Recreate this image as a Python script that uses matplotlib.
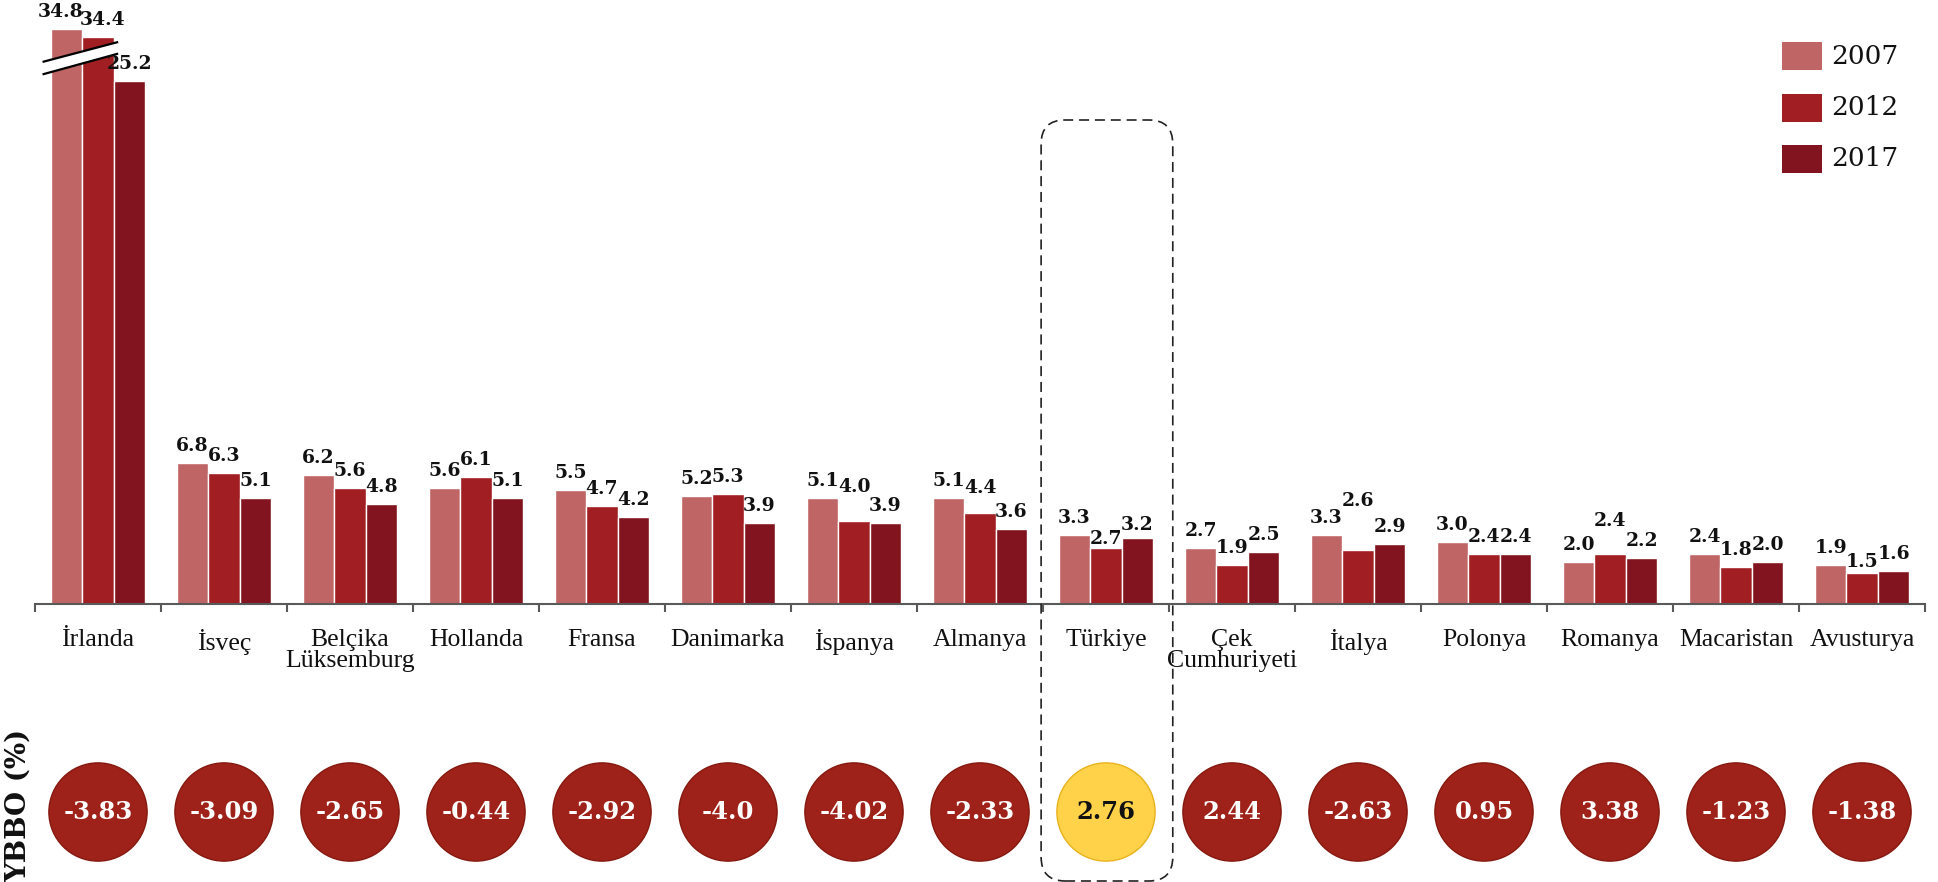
import matplotlib
matplotlib.use("Agg")
import matplotlib.pyplot as plt
from matplotlib.patches import FancyBboxPatch, Rectangle, Polygon
from matplotlib.transforms import IdentityTransform

# ---------------- data ----------------
categories = ["İrlanda", "İsveç", "Belçika\nLüksemburg", "Hollanda", "Fransa",
              "Danimarka", "İspanya", "Almanya", "Türkiye", "Çek\nCumhuriyeti",
              "İtalya", "Polonya", "Romanya", "Macaristan", "Avusturya"]
years = ["2007", "2012", "2017"]
v2007 = [34.8, 6.8, 6.2, 5.6, 5.5, 5.2, 5.1, 5.1, 3.3, 2.7, 3.3, 3.0, 2.0, 2.4, 1.9]
v2012 = [34.4, 6.3, 5.6, 6.1, 4.7, 5.3, 4.0, 4.4, 2.7, 1.9, 2.6, 2.4, 2.4, 1.8, 1.5]
v2017 = [25.2, 5.1, 4.8, 5.1, 4.2, 3.9, 3.9, 3.6, 3.2, 2.5, 2.9, 2.4, 2.2, 2.0, 1.6]
ybbo = [-3.83, -3.09, -2.65, -0.44, -2.92, -4.0, -4.02, -2.33, 2.76, 2.44,
        -2.63, 0.95, 3.38, -1.23, -1.38]
highlight = "Türkiye"

# ---------------- style ----------------
colors = ["#C06565", "#A11F22", "#82141F"]
circle_color = "#9E2219"
highlight_color = "#FFD24A"
BREAK_AT = 26.0          # axis break: values above are shortened
BREAK_OFFSET = 7.1
label_nudge = {(6, 1): 0.8, (7, 1): 0.35, (10, 1): 1.55, (12, 1): 0.8,
               (8, 1): -0.4, (8, 2): -0.2, (14, 1): -0.3}
label_xnudge = {(0, 0): -0.045, (0, 1): 0.04}
num_font = "DejaVu Serif"
txt_font = "Liberation Serif"

W, H = 1938, 882
fig = plt.figure(figsize=(W / 100, H / 100), dpi=100)
ax = fig.add_axes([35 / W, 278 / H, 1890 / W, 594 / H])
n = len(categories)
ax.set_xlim(-0.5, n - 0.5)
ax.set_ylim(0, 28.6)

series = [v2007, v2012, v2017]
bw = 0.25
for k, vals in enumerate(series):
    xs = [i + (k - 1) * bw for i in range(n)]
    hs = [v - BREAK_OFFSET if v > BREAK_AT else v for v in vals]
    ax.bar(xs, hs, width=bw, color=colors[k], edgecolor="white", linewidth=1.0,
           zorder=2)
    for i, (x, h, v) in enumerate(zip(xs, hs, vals)):
        y = h + 0.82 + label_nudge.get((i, k), 0.0)
        ax.text(x + label_xnudge.get((i, k), 0.0), y, f"{v:.1f}", ha="center",
                va="center", fontsize=13.5, fontweight="bold", family=num_font,
                color="#111111", zorder=4, clip_on=False)

# axis break marks on the first group
lo = [(-0.44, 25.5), (0.16, 26.5)]
hi = [(-0.44, 26.1), (0.16, 27.06)]
ax.add_patch(Polygon([lo[0], lo[1], hi[1], hi[0]], closed=True, facecolor="white",
                     edgecolor="none", zorder=3))
for seg in (lo, hi):
    ax.plot([seg[0][0], seg[1][0]], [seg[0][1], seg[1][1]], color="black", lw=1.6,
            zorder=3, solid_capstyle="butt")

# axes cosmetics
for s in ["top", "right", "left"]:
    ax.spines[s].set_visible(False)
ax.spines["bottom"].set_color("#595959")
ax.spines["bottom"].set_linewidth(1.5)
ax.set_yticks([])
ax.set_xticks(range(n))
ax.set_xticklabels(categories, family=txt_font, fontsize=18.5, linespacing=0.97,
                   color="#111111")
ax.tick_params(axis="x", which="major", length=0, pad=18)
ax.set_xticks([i - 0.5 for i in range(n + 1)], minor=True)
ax.tick_params(axis="x", which="minor", length=6, width=1.5, color="#595959",
               direction="out")

# legend (manual)
for k, yr in enumerate(years):
    yc = H - (56 + k * 51.5)
    fig.patches.append(Rectangle((1782, yc - 14), 40, 28, facecolor=colors[k],
                                 edgecolor="none", transform=IdentityTransform(),
                                 figure=fig))
    fig.text(1831 / W, yc / H, yr, family=num_font, fontsize=19, va="center",
             ha="left", color="#111111")

# YBBO circles
ax2 = fig.add_axes([35 / W, 0, 1890 / W, 140 / H])
ax2.set_xlim(-0.5, n - 0.5)
ax2.set_ylim(0, 1)
ax2.axis("off")
fc = [highlight_color if c == highlight else circle_color for c in categories]
ec = ["#E8B21C" if c == highlight else "#85180F" for c in categories]
ax2.scatter(range(n), [0.5] * n, s=5000, c=fc, edgecolors=ec, linewidths=1.0,
            zorder=2, clip_on=False)
for i, (c, v) in enumerate(zip(categories, ybbo)):
    ax2.text(i, 0.5, f"{v}", ha="center", va="center", fontsize=17.5,
             fontweight="bold", family=num_font,
             color="#111111" if c == highlight else "white", zorder=3)

fig.text(18 / W, 77 / H, "YBBO (%)", rotation=90, ha="center", va="center",
         family=num_font, fontweight="bold", fontsize=20, color="#111111")

# dashed rounded box around the highlighted country
hi_idx = categories.index(highlight)
x0 = ax.transData.transform((hi_idx - 0.515, 0))[0]
x1 = ax.transData.transform((hi_idx + 0.53, 0))[0]
box = FancyBboxPatch((x0, 1), x1 - x0, H - 120 - 1,
                     boxstyle="round,pad=0,rounding_size=24",
                     facecolor="none", edgecolor="#222222", lw=1.2,
                     linestyle=(0, (6, 3.5)), transform=IdentityTransform(),
                     figure=fig, zorder=5)
fig.patches.append(box)

fig.savefig("out.png", dpi=100)
